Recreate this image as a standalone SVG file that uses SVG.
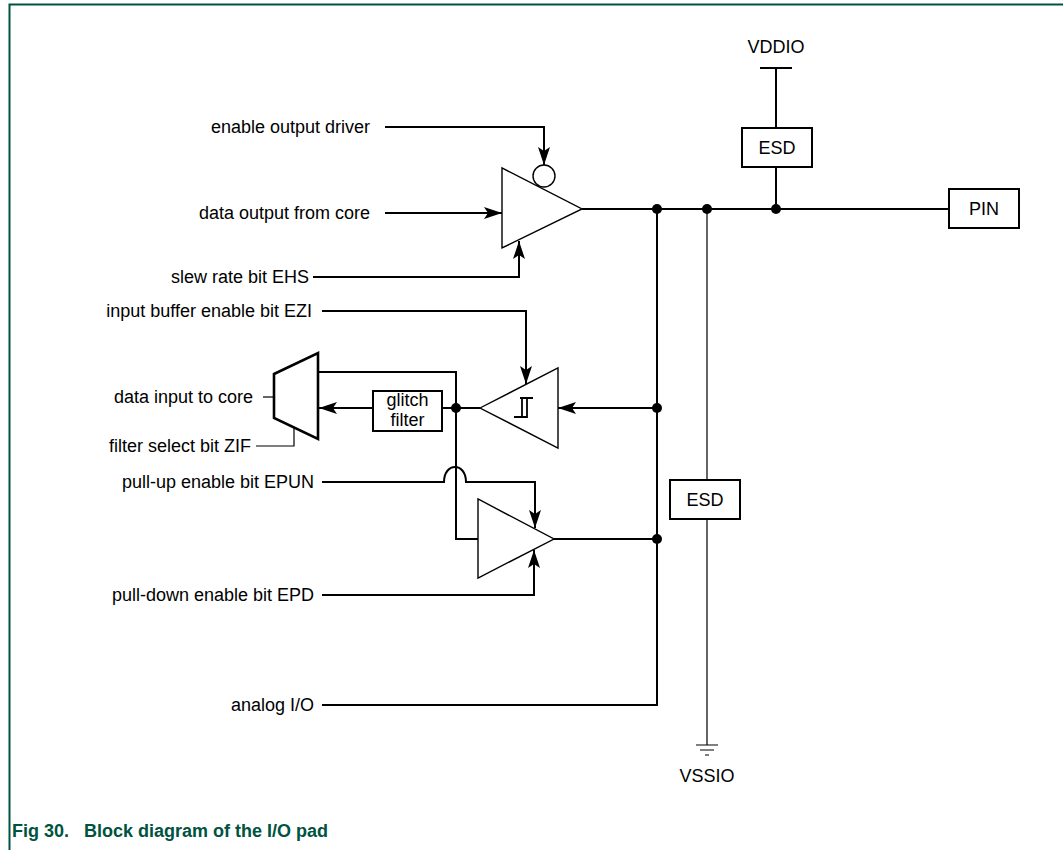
<svg xmlns="http://www.w3.org/2000/svg" width="1063" height="850" viewBox="0 0 1063 850">
<defs>
<style>
.lbl{font-family:"Liberation Sans",Arial,sans-serif;font-size:18px;fill:#000}
.blk{font-family:"Liberation Sans",Arial,sans-serif;font-size:18px;fill:#000;text-anchor:middle}
.w{fill:none;stroke:#000;stroke-width:2}
.thin{fill:none;stroke:#000;stroke-width:1.2}
.shape{fill:#fff;stroke:#000;stroke-width:1.4}
.box{fill:#fff;stroke:#000;stroke-width:2}
.dot{fill:#000}
</style>
<marker id="arr" viewBox="0 0 18 12" refX="18" refY="6" markerWidth="18" markerHeight="12" markerUnits="userSpaceOnUse" orient="auto">
<path d="M0,0 L18,6 L0,12 L4,6 Z" fill="#000"/>
</marker>
</defs>
<rect width="1063" height="850" fill="#fff"/>
<g id="frame">
<path d="M9.5,850 V4.5 H1063" fill="none" stroke="#00533f" stroke-width="2"/>
<text x="12" y="837" style="font-family:'Liberation Sans',Arial,sans-serif;font-size:18px;font-weight:bold;fill:#00533f" xml:space="preserve">Fig 30.   Block diagram of the I/O pad</text>
</g>
<g id="labels">
<text class="lbl" x="370" y="133" text-anchor="end">enable output driver</text>
<text class="lbl" x="370" y="219" text-anchor="end">data output from core</text>
<text class="lbl" x="309" y="283" text-anchor="end">slew rate bit EHS</text>
<text class="lbl" x="312" y="317" text-anchor="end">input buffer enable bit EZI</text>
<text class="lbl" x="253" y="403" text-anchor="end">data input to core</text>
<text class="lbl" x="251" y="452" text-anchor="end">filter select bit ZIF</text>
<text class="lbl" x="314" y="488" text-anchor="end">pull-up enable bit EPUN</text>
<text class="lbl" x="314" y="601" text-anchor="end">pull-down enable bit EPD</text>
<text class="lbl" x="314" y="711" text-anchor="end">analog I/O</text>
<text class="blk" x="776" y="53">VDDIO</text>
<text class="blk" x="707" y="782">VSSIO</text>
</g>
<g id="connectors">
<path class="w" d="M385,127 H544 V165" marker-end="url(#arr)"/>
<path class="w" d="M385,213 H502" marker-end="url(#arr)"/>
<path class="w" d="M313,277 H519 V241" marker-end="url(#arr)"/>
<path class="w" d="M582,209 H949"/>
<path class="w" d="M776,68 V128 M760,68 H792"/>
<path class="w" d="M776,167 V209"/>
<path class="w" d="M657,209 V705 H322"/>
<path class="thin" d="M707,209 V480 M707,519 V745"/>
<path class="thin" d="M696,745 H718 M700,750 H714 M705,755 H709"/>
<path class="w" d="M657,408 H558" marker-end="url(#arr)"/>
<path class="w" d="M322,311 H526 V384" marker-end="url(#arr)"/>
<path class="w" d="M456,408 H480"/>
<path class="w" d="M456,408 H442"/>
<path class="w" d="M373,408 H319" marker-end="url(#arr)"/>
<path class="w" d="M318,372 H456 V539 H478"/>
<path class="thin" d="M263,397 H274"/>
<path class="thin" d="M256,446 H294 V428"/>
<path class="w" d="M322,482 H444 C444,462 466,462 466,482 H535 V528" marker-end="url(#arr)"/>
<path class="w" d="M322,595 H534 V550" marker-end="url(#arr)"/>
<path class="w" d="M554,539 H657"/>
</g>
<g id="output-buffer">
<polygon class="shape" points="502,168 502,248 582,209"/>
<circle cx="544" cy="176" r="11" fill="#fff" stroke="#000" stroke-width="1.4"/>
</g>
<g id="input-buffer">
<polygon class="shape" points="480,408 558,368 558,448"/>
<path d="M514,417 H527 V398 M520,398 H533 M522,398 V417" fill="none" stroke="#000" stroke-width="1.8"/>
</g>
<g id="pull-buffer">
<polygon class="shape" points="478,499 478,578 554,539"/>
</g>
<g id="mux">
<polygon points="274,374 318,353 318,439 274,418" fill="#fff" stroke="#000" stroke-width="2.6"/>
</g>
<g id="glitch-filter">
<rect class="box" x="373" y="391" width="69" height="40"/>
<text class="blk" x="407.5" y="406">glitch</text>
<text class="blk" x="407.5" y="426">filter</text>
</g>
<g id="esd-top">
<rect class="box" x="742" y="128" width="70" height="39"/>
<text class="blk" x="777" y="154">ESD</text>
</g>
<g id="esd-bottom">
<rect class="box" x="670" y="480" width="70" height="39"/>
<text class="blk" x="705" y="506">ESD</text>
</g>
<g id="pin">
<rect class="box" x="949" y="189" width="70" height="39"/>
<text class="blk" x="984" y="215">PIN</text>
</g>
<g id="junctions">
<circle class="dot" cx="657" cy="209" r="5"/>
<circle class="dot" cx="707" cy="209" r="5"/>
<circle class="dot" cx="776" cy="209" r="5"/>
<circle class="dot" cx="657" cy="408" r="5"/>
<circle class="dot" cx="657" cy="539" r="5"/>
<circle class="dot" cx="456" cy="408" r="5"/>
</g>
</svg>
